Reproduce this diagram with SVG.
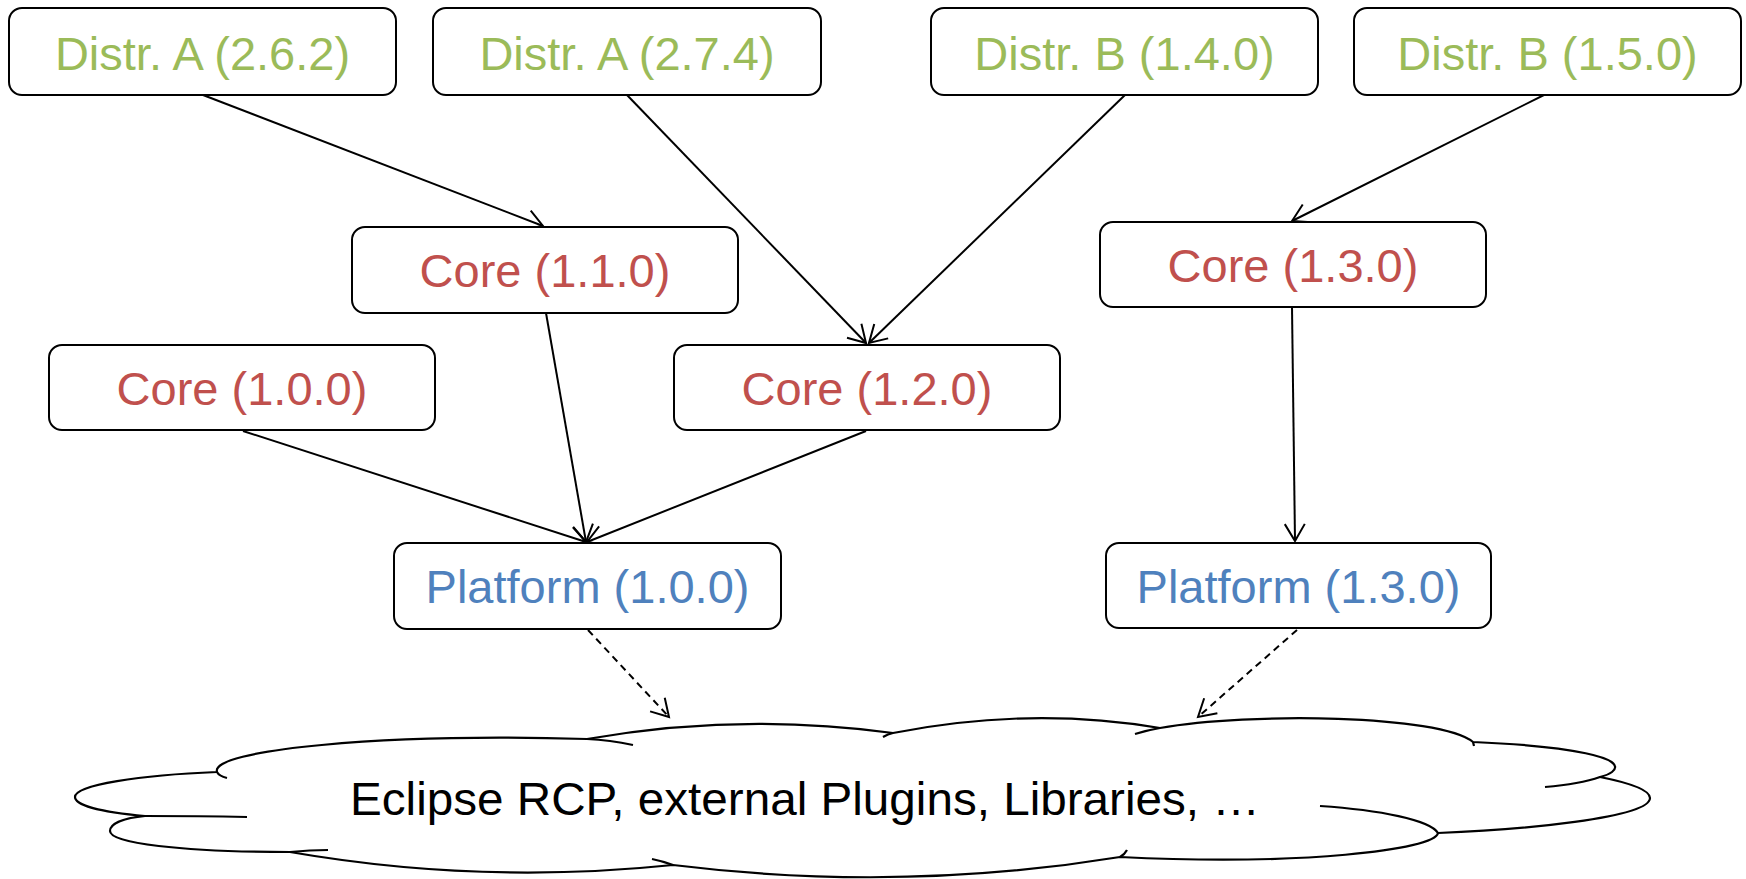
<svg xmlns="http://www.w3.org/2000/svg" width="1746" height="879" viewBox="0 0 1746 879">
<style>
.box{fill:#fff;stroke:#000;stroke-width:2}
.t{font-family:"Liberation Sans",Arial,sans-serif;font-size:47px;text-anchor:middle}
.g{fill:#9BBB59}.r{fill:#C0504D}.b{fill:#4F81BD}
.e{fill:none;stroke:#000;stroke-width:2}
.d{stroke-dasharray:7 5}
.cl{fill:#fff;stroke:#000;stroke-width:2.2;stroke-linejoin:round}
.tl{fill:none;stroke:#000;stroke-width:2.2}
</style>
<defs>
<marker id="ah" markerUnits="userSpaceOnUse" markerWidth="24" markerHeight="24" viewBox="-20 -12 22 24" refX="0" refY="0" orient="auto">
<path d="M -17,-10 L 0,0 L -17,10" fill="none" stroke="#000" stroke-width="2"/>
</marker>
</defs>
<rect width="1746" height="879" fill="#fff"/>
<g id="cloud">
<path class="cl" d="M 217,772 C 210,750 380,733 587,739 Q 740,712 893,733 Q 1030,706 1160,728 C 1250,712 1440,715 1473,742 C 1570,746 1630,758 1612,772 Q 1608,775 1600,777 C 1630,783 1650,790 1650,798 C 1650,818 1520,830 1438,833 C 1435,850 1300,866 1120,857 Q 900,893 673,865 Q 480,885 290,852 C 180,852 110,843 110,831 C 110,823 125,818 145,816 C 100,812 75,805 75,797 C 75,785 140,775 217,772 Z"/>
<path class="tl" d="M 217,772 Q 219,776 227,778 M 587,739 Q 610,740 633,745 M 893,733 Q 888,734 883,737 M 1160,728 Q 1148,730 1135,734 M 1473,742 L 1474,746 M 1600,777 Q 1580,784 1545,787 M 1438,833 C 1430,820 1380,810 1320,806 M 1120,857 Q 1125,854 1127,850 M 673,865 Q 662,861 652,859 M 290,852 Q 310,850 328,850 M 145,816 Q 200,816 247,817"/>
<text class="t" x="350" y="815" textLength="910" lengthAdjust="spacingAndGlyphs" style="text-anchor:start">Eclipse RCP, external Plugins, Libraries, …</text>
</g>
<g id="connectors">
<line class="e" x1="203" y1="95" x2="543" y2="226" marker-end="url(#ah)"/>
<line class="e" x1="627" y1="95" x2="866" y2="343" marker-end="url(#ah)"/>
<line class="e" x1="1125" y1="95" x2="869" y2="343" marker-end="url(#ah)"/>
<line class="e" x1="1548" y1="93" x2="1292" y2="221" marker-end="url(#ah)"/>
<line class="e" x1="546" y1="313" x2="586" y2="542" marker-end="url(#ah)"/>
<line class="e" x1="243" y1="431" x2="586" y2="542" marker-end="url(#ah)"/>
<line class="e" x1="866" y1="431" x2="587" y2="542" marker-end="url(#ah)"/>
<line class="e" x1="1292" y1="307" x2="1295" y2="541" marker-end="url(#ah)"/>
<line class="e d" x1="588" y1="630" x2="669" y2="717" marker-end="url(#ah)"/>
<line class="e d" x1="1297" y1="630" x2="1198" y2="717" marker-end="url(#ah)"/>
</g>
<g id="distrA262"><rect class="box" x="9" y="8" width="387" height="87" rx="13"/><text class="t g" x="202.5" y="70">Distr. A (2.6.2)</text></g>
<g id="distrA274"><rect class="box" x="433" y="8" width="388" height="87" rx="13"/><text class="t g" x="627" y="70">Distr. A (2.7.4)</text></g>
<g id="distrB140"><rect class="box" x="931" y="8" width="387" height="87" rx="13"/><text class="t g" x="1124.5" y="70">Distr. B (1.4.0)</text></g>
<g id="distrB150"><rect class="box" x="1354" y="8" width="387" height="87" rx="13"/><text class="t g" x="1547.5" y="70">Distr. B (1.5.0)</text></g>
<g id="core110"><rect class="box" x="352" y="227" width="386" height="86" rx="13"/><text class="t r" x="545" y="287">Core (1.1.0)</text></g>
<g id="core130"><rect class="box" x="1100" y="222" width="386" height="85" rx="13"/><text class="t r" x="1293" y="282">Core (1.3.0)</text></g>
<g id="core100"><rect class="box" x="49" y="345" width="386" height="85" rx="13"/><text class="t r" x="242" y="405">Core (1.0.0)</text></g>
<g id="core120"><rect class="box" x="674" y="345" width="386" height="85" rx="13"/><text class="t r" x="867" y="405">Core (1.2.0)</text></g>
<g id="platform100"><rect class="box" x="394" y="543" width="387" height="86" rx="13"/><text class="t b" x="587.5" y="603">Platform (1.0.0)</text></g>
<g id="platform130"><rect class="box" x="1106" y="543" width="385" height="85" rx="13"/><text class="t b" x="1298.5" y="603">Platform (1.3.0)</text></g>
</svg>
